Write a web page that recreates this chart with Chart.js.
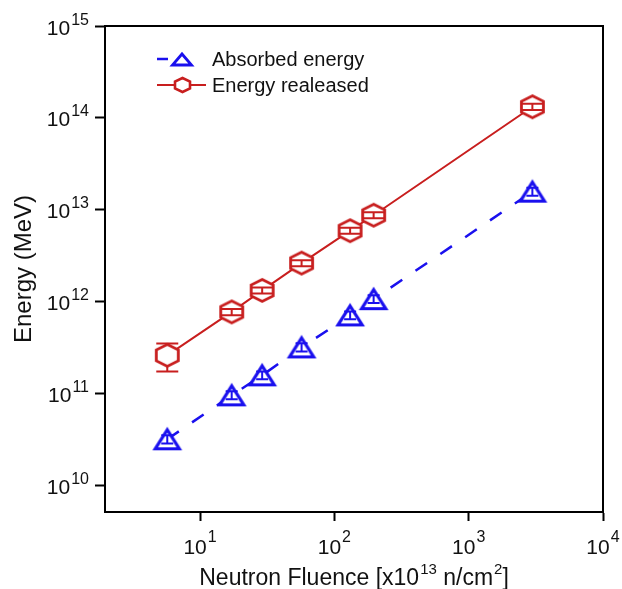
<!DOCTYPE html>
<html><head><meta charset="utf-8">
<script src="https://cdn.jsdelivr.net/npm/chart.js@4.4.0/dist/chart.umd.min.js"></script>
<style>html,body{margin:0;padding:0;background:#fff}canvas{display:block}</style>
</head><body>
<canvas id="c" width="622" height="589"></canvas>
<script>
// ---- data ----
const seriesNames = ['Absorbed energy', 'Energy realeased'];
const fluence = [5.7, 17.2, 29, 57, 131, 196, 2980];
const absorbedEnergy = [3.16e10, 9.5e10, 1.57e11, 3.16e11, 7.05e11, 1.06e12, 1.57e13];
const absorbedErrLow = [2.85e10, 8.6e10, 1.42e11, 2.85e11, 6.4e11, 9.6e11, 1.42e13];
const absorbedErrHigh = [3.5e10, 1.05e11, 1.73e11, 3.5e11, 7.8e11, 1.17e12, 1.73e13];
const releasedEnergy = [2.59e11, 7.7e11, 1.32e12, 2.62e12, 5.9e12, 8.7e12, 1.32e14];
const releasedErrLow = [1.73e11, 7.1e11, 1.22e12, 2.42e12, 5.45e12, 8.05e12, 1.22e14];
const releasedErrHigh = [3.49e11, 8.3e11, 1.42e12, 2.82e12, 6.35e12, 9.35e12, 1.42e14];
const xTickExponents = [1, 2, 3, 4];
const yTickExponents = [10, 11, 12, 13, 14, 15];
// x title pieces: [text, isSuperscript]
const xTitleParts = [['Neutron Fluence [x10', false], ['13', true], [' n/cm', false], ['2', true], [']', false]];
const yTitle = 'Energy (MeV)';

// ---- styles ----
const FONT = '"Liberation Sans", Arial, Helvetica, sans-serif';
const BLUE = '#1a10ee';
const RED = '#c81e1e';

function makeTriangle(color, hw, top, bottom, lw) {
  const c = document.createElement('canvas');
  const w = Math.ceil(hw * 2 + lw * 3), h = Math.ceil(bottom - top + lw * 4);
  c.width = w; c.height = h;
  const g = c.getContext('2d');
  g.translate(w / 2, h / 2 - (top + bottom) / 2);
  g.beginPath();
  g.moveTo(0, top); g.lineTo(hw, bottom); g.lineTo(-hw, bottom); g.closePath();
  g.fillStyle = '#fff'; g.fill();
  g.lineJoin = 'miter'; g.lineWidth = lw; g.strokeStyle = color; g.stroke();
  return c;
}
function makeHexagon(color, hw, hh, sv, lw) {
  const c = document.createElement('canvas');
  const w = Math.ceil(hw * 2 + lw * 3), h = Math.ceil(hh * 2 + lw * 3);
  c.width = w; c.height = h;
  const g = c.getContext('2d');
  g.translate(w / 2, h / 2);
  g.beginPath();
  g.moveTo(0, -hh); g.lineTo(hw, -sv); g.lineTo(hw, sv); g.lineTo(0, hh);
  g.lineTo(-hw, sv); g.lineTo(-hw, -sv); g.closePath();
  g.fillStyle = '#fff'; g.fill();
  g.lineJoin = 'miter'; g.lineWidth = lw; g.strokeStyle = color; g.stroke();
  return c;
}
const triImg = makeTriangle(BLUE, 12, -9.5, 9.5, 3.2);
const hexImg = makeHexagon(RED, 11, 11, 5.5, 2.8);
const triLegend = makeTriangle(BLUE, 9.5, -5.5, 5.5, 2.8);
const hexLegend = makeHexagon(RED, 7.5, 7, 3.5, 2.6);

const errorBarPlugin = {
  id: 'errorBars',
  afterDatasetsDraw(chart) {
    const ctx = chart.ctx, ys = chart.scales.y;
    chart.data.datasets.forEach((ds, i) => {
      const meta = chart.getDatasetMeta(i);
      ctx.save();
      ctx.strokeStyle = ds.borderColor; ctx.lineWidth = 2; ctx.setLineDash([]);
      meta.data.forEach((pt, j) => {
        const x = pt.x, y = pt.y;
        const yl = ys.getPixelForValue(ds.errLow[j]);
        const yh = ys.getPixelForValue(ds.errHigh[j]);
        ctx.beginPath();
        [yl, yh].forEach(ye => {
          const d = ye - y;
          const start = Math.abs(d) > ds.markerHalf ? y + Math.sign(d) * ds.markerHalf : y;
          ctx.moveTo(x, start); ctx.lineTo(x, ye);
          ctx.moveTo(x - ds.capHalf, ye); ctx.lineTo(x + ds.capHalf, ye);
        });
        ctx.stroke();
      });
      ctx.restore();
    });
  }
};

const framePlugin = {
  id: 'frame',
  afterDraw(chart) {
    const a = chart.chartArea, ctx = chart.ctx;
    ctx.save(); ctx.strokeStyle = '#000'; ctx.lineWidth = 2;
    ctx.strokeRect(a.left, a.top, a.right - a.left, a.bottom - a.top);
    ctx.restore();
  }
};

const textPlugin = {
  id: 'tickLabelsAndTitle',
  afterDraw(chart) {
    const ctx = chart.ctx, xs = chart.scales.x, ys = chart.scales.y;
    const big = '21px ' + FONT, small = '16px ' + FONT;
    ctx.save(); ctx.fillStyle = '#111'; ctx.textBaseline = 'alphabetic'; ctx.textAlign = 'left';
    const rightEdge = ys.right - 16;
    yTickExponents.forEach(e => {
      const y = ys.getPixelForValue(Math.pow(10, e));
      ctx.font = small; const sw = ctx.measureText(String(e)).width;
      ctx.fillText(String(e), rightEdge - sw, y - 1.5);
      ctx.font = big; const bw = ctx.measureText('10').width;
      ctx.fillText('10', rightEdge - sw - 1 - bw, y + 8.5);
    });
    xTickExponents.forEach(e => {
      const x = xs.getPixelForValue(Math.pow(10, e));
      ctx.font = big; const bw = ctx.measureText('10').width;
      ctx.font = small; const sw = ctx.measureText(String(e)).width;
      const start = x - (bw + sw + 1) / 2;
      ctx.font = big; ctx.fillText('10', start, xs.top + 42);
      ctx.font = small; ctx.fillText(String(e), start + bw + 1, xs.top + 30);
    });
    // x axis title with real superscripts
    const tBig = '23px ' + FONT, tSmall = '15px ' + FONT;
    let total = 0;
    xTitleParts.forEach(p => { ctx.font = p[1] ? tSmall : tBig; total += ctx.measureText(p[0]).width + (p[1] ? 1 : 0); });
    let cx = (xs.left + xs.right) / 2 - total / 2;
    const base = xs.top + 73;
    xTitleParts.forEach(p => {
      ctx.font = p[1] ? tSmall : tBig;
      ctx.fillText(p[0], cx + (p[1] ? 1 : 0), p[1] ? base - 11 : base);
      cx += ctx.measureText(p[0]).width + (p[1] ? 1 : 0);
    });
    ctx.restore();
  }
};

const legendPlugin = {
  id: 'customLegend',
  afterDraw(chart) {
    const ctx = chart.ctx, a = chart.chartArea;
    const x0 = a.left + 52, mx = a.left + 77, tx = a.left + 107;
    const rows = [a.top + 33, a.top + 59];
    const ends = [a.left + 90, a.left + 101];
    const imgs = [triLegend, hexLegend];
    chart.data.datasets.forEach((ds, i) => {
      const y = rows[i];
      ctx.save();
      ctx.strokeStyle = ds.borderColor; ctx.lineWidth = ds.borderWidth;
      ctx.setLineDash(i === 0 ? [11, 40] : []);
      ctx.beginPath(); ctx.moveTo(x0, y); ctx.lineTo(ends[i], y); ctx.stroke();
      ctx.setLineDash([]);
      const im = imgs[i];
      ctx.drawImage(im, Math.round(mx - im.width / 2), Math.round(y - im.height / 2));
      ctx.fillStyle = '#111'; ctx.font = '20px ' + FONT;
      ctx.textBaseline = 'middle'; ctx.textAlign = 'left';
      ctx.fillText(ds.label, tx, y + 1);
      ctx.restore();
    });
  }
};

new Chart(document.getElementById('c'), {
  type: 'line',
  data: {
    datasets: [
      {
        label: seriesNames[0],
        data: fluence.map((x, i) => ({ x: x, y: absorbedEnergy[i] })),
        errLow: absorbedErrLow, errHigh: absorbedErrHigh, capHalf: 6, markerHalf: 11,
        borderColor: BLUE, borderWidth: 2.5, borderDash: [14, 16],
        pointStyle: triImg, pointRadius: 12, fill: false, tension: 0
      },
      {
        label: seriesNames[1],
        data: fluence.map((x, i) => ({ x: x, y: releasedEnergy[i] })),
        errLow: releasedErrLow, errHigh: releasedErrHigh, capHalf: 11, markerHalf: 11,
        borderColor: RED, borderWidth: 2,
        pointStyle: hexImg, pointRadius: 12, fill: false, tension: 0
      }
    ]
  },
  options: {
    responsive: false, animation: false, devicePixelRatio: 1,
    layout: { padding: { top: 26, right: 19, left: 0, bottom: 0 } },
    plugins: { legend: { display: false }, tooltip: { enabled: false } },
    scales: {
      x: {
        type: 'logarithmic', position: 'bottom', min: 1.96, max: 1e4,
        afterBuildTicks: s => { s.ticks = xTickExponents.map(e => ({ value: Math.pow(10, e) })); },
        afterFit: s => { s.height = 77; },
        ticks: { display: false },
        grid: { drawOnChartArea: false, drawTicks: true, tickLength: 9, tickWidth: 2, tickColor: '#000' },
        border: { display: true, color: '#000', width: 2 },
        title: { display: false }
      },
      y: {
        type: 'logarithmic', position: 'left', min: 5.1e9, max: 1e15,
        afterBuildTicks: s => { s.ticks = yTickExponents.map(e => ({ value: Math.pow(10, e) })); },
        afterFit: s => { s.width = 105; },
        ticks: { display: false },
        grid: { drawOnChartArea: false, drawTicks: true, tickLength: 10, tickWidth: 2, tickColor: '#000' },
        border: { display: true, color: '#000', width: 2 },
        title: { display: true, text: yTitle, color: '#111', font: { family: FONT, size: 24 }, padding: { top: 10, bottom: 0 } }
      }
    }
  },
  plugins: [errorBarPlugin, framePlugin, textPlugin, legendPlugin]
});
</script>
</body></html>
